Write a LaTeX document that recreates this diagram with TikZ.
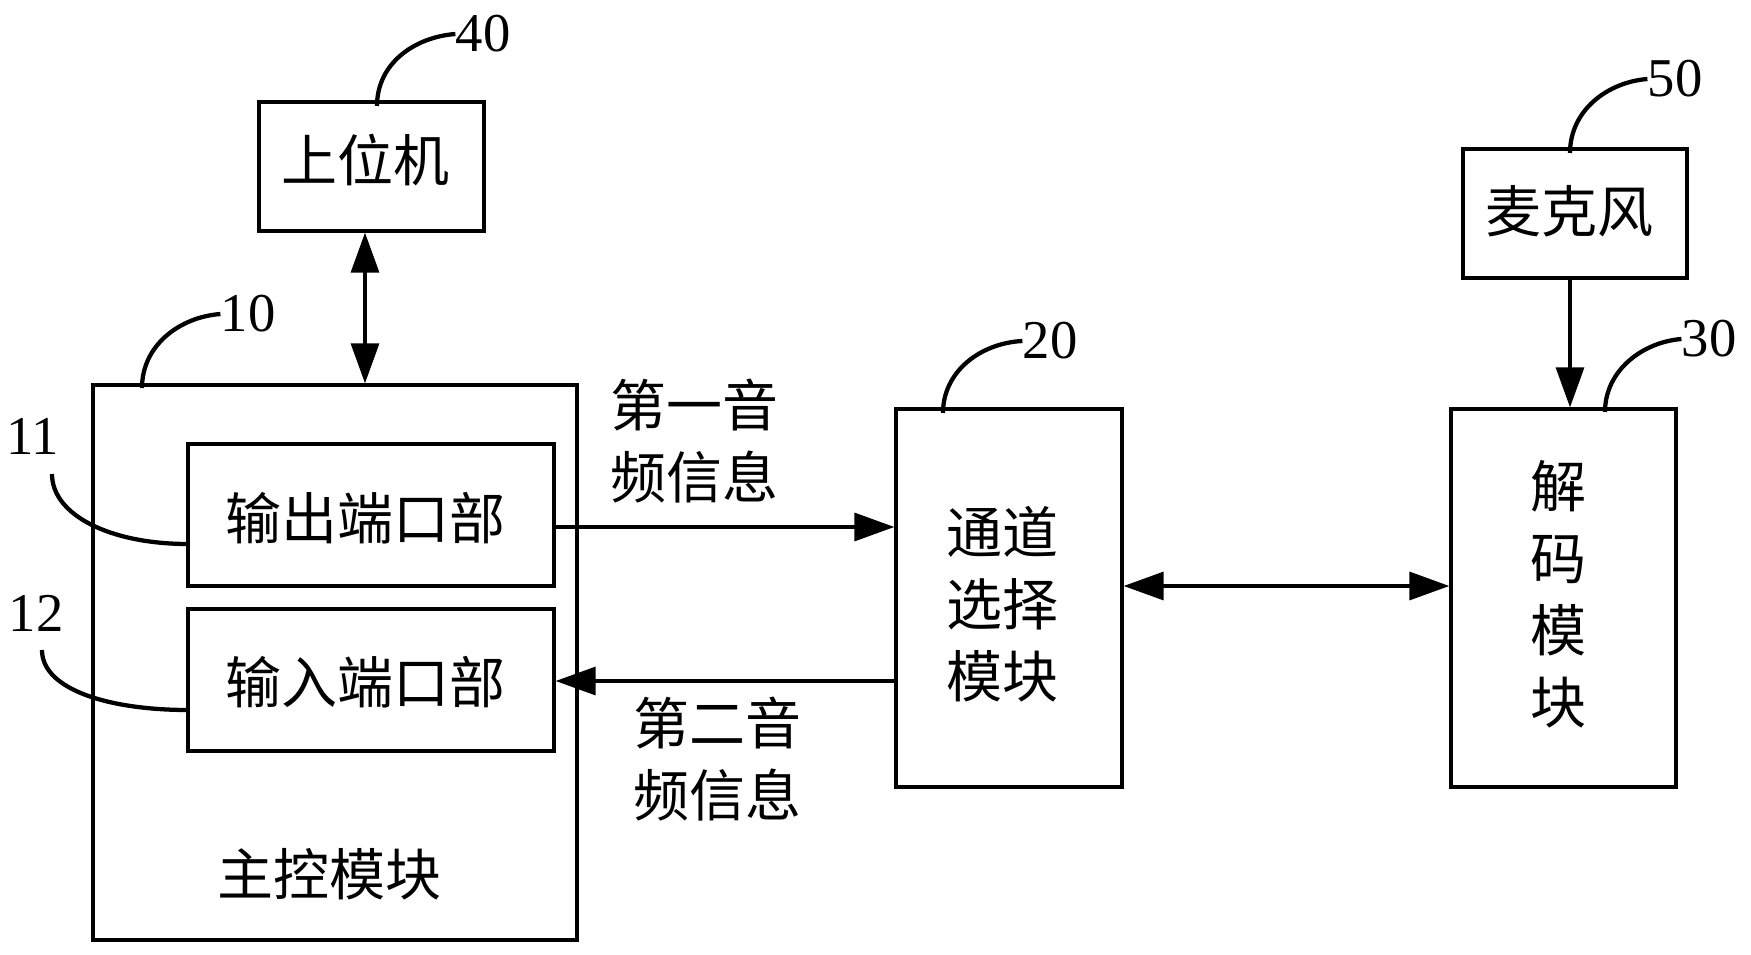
\documentclass[tikz,border=0pt]{standalone}
\usepackage{fontspec}
\setmainfont{Liberation Serif}
\newfontfamily\cjk{Noto Sans CJK SC}
\usetikzlibrary{arrows.meta,fit}
\begin{document}
\begin{tikzpicture}[x=0.75pt,y=-0.75pt,
  box/.style={draw, line width=2.5pt, inner sep=0pt},
  txt/.style={font=\cjk\fontsize{42}{54}\selectfont, inner sep=0pt},
  num/.style={font=\fontsize{41}{41}\selectfont, inner sep=0pt},
  arr/.style={line width=2.5pt, -{Triangle[length=30pt,width=21pt]}},
  arrb/.style={line width=2.5pt, {Triangle[length=30pt,width=21pt]}-{Triangle[length=30pt,width=21pt]}},
  lead/.style={line width=3.2pt}]
\useasboundingbox (0,0) rectangle (1751,955);
% boxes
\node[box, fit={(259,102) (484,231)}] (pc) {};
\node[box, fit={(93,385) (577,940)}] (main) {};
\node[box, fit={(188,444) (554,586)}] (out) {};
\node[box, fit={(188,609) (554,751)}] (in) {};
\node[box, fit={(896,409) (1122,787)}] (chan) {};
\node[box, fit={(1451,409) (1676,787)}] (dec) {};
\node[box, fit={(1463,149) (1687,278)}] (mic) {};
% texts
\node[txt] (tpc) at (365,160) {上位机};
\node[txt] (tmain) at (329,874) {主控模块};
\node[txt] (tout) at (365,518) {输出端口部};
\node[txt] (tin) at (365,682) {输入端口部};
\node[txt, align=center] (tchan) at (1002,604) {通道\\选择\\模块};
\node[txt, align=center] (tdec) at (1558,594) {解\\码\\模\\块};
\node[txt] (tmic) at (1569,211) {麦克风};
\node[txt, align=left, anchor=west] (a1) at (610,441) {第一音\\频信息};
\node[txt, align=left, anchor=west] (a2) at (633,759) {第二音\\频信息};
% numbers
\node[num] (n40) at (483,34) {40};
\node[num] (n10) at (248,314) {10};
\node[num] (n20) at (1050,341) {20};
\node[num] (n30) at (1709,339) {30};
\node[num] (n50) at (1675,79) {50};
\node[num] (n11) at (33,436) {11};
\node[num] (n12) at (36,613) {12};
% helper coordinates
\coordinate (xpc) at (365,0);
\coordinate (yout) at (0,527);
\coordinate (yin) at (0,681);
\coordinate (ybi) at (0,586);
\coordinate (xmic) at (1570,0);
% connectors
\draw[arrb] (pc.south -| xpc) -- (main.north -| xpc);
\draw[arr] (out.east |- yout) -- (chan.west |- yout);
\draw[arr] (chan.west |- yin) -- (in.east |- yin);
\draw[arrb] (chan.east |- ybi) -- (dec.west |- ybi);
\draw[arr] (mic.south -| xmic) -- (dec.north -| xmic);
% leader curves
\coordinate (s40) at (377,106);
\coordinate (s10) at (142,388);
\coordinate (s20) at (943,413);
\coordinate (s30) at (1605,412);
\coordinate (s50) at (1570,153);
\coordinate (s11) at (52,474);
\coordinate (s12) at (42,650);
\coordinate (e11) at (188,544);
\coordinate (e12) at (188,710);
\draw[lead] (s40) .. controls (377,63) and (415,37) .. (n40.west);
\draw[lead] (s10) .. controls (142,345) and (180,317) .. (n10.west);
\draw[lead] (s20) .. controls (943,371) and (981,343) .. (n20.west);
\draw[lead] (s30) .. controls (1605,370) and (1643,342) .. (n30.west);
\draw[lead] (s50) .. controls (1570,110) and (1608,82) .. (n50.west);
\draw[lead] (s11) .. controls (52,515) and (110,544) .. (e11);
\draw[lead] (s12) .. controls (42,690) and (110,710) .. (e12);
\end{tikzpicture}
\end{document}
